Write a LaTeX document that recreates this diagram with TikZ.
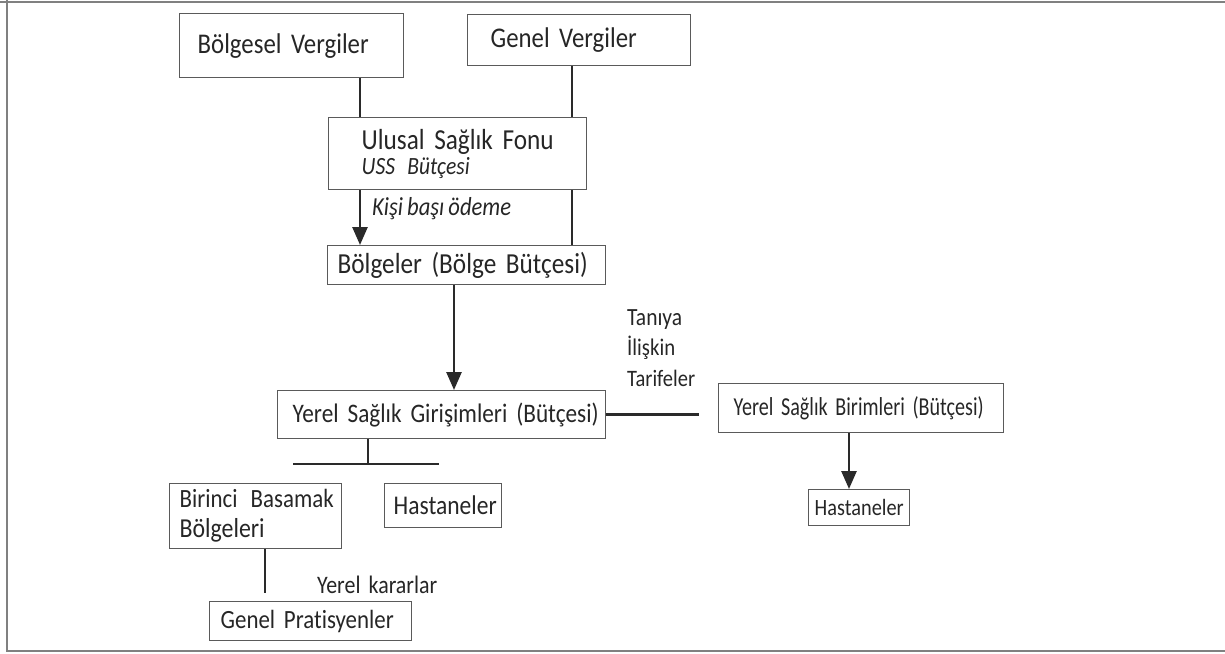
\documentclass[tikz,border=0pt]{standalone}
\usepackage{fontspec}
\setmainfont{Carlito}[Ligatures=CommonOff, FakeStretch=0.87, WordSpace=0.8]
\usetikzlibrary{arrows.meta,calc}
\definecolor{boxc}{HTML}{5A5A5A}
\definecolor{linec}{HTML}{2A2A2A}
\definecolor{textc}{HTML}{262626}
\definecolor{framec}{HTML}{808080}
\newcommand{\fsz}[2]{\fontsize{#1}{#2}\selectfont}
\newcommand{\fitw}[2]{\resizebox{#1pt}{!}{#2}}
\tikzset{
  box/.style={draw=boxc, line width=1.4pt, anchor=north west, align=left,
    text=textc, inner ysep=0pt, font=\fsz{24}{30}},
  conn/.style={draw=linec, line width=2.6pt},
  arr/.style={conn, -{Triangle[length=18pt,width=15pt]}},
  lbl/.style={text=textc, inner sep=0pt, align=left, font=\fsz{22}{28.5}},
  frame/.style={draw=framec, line width=2pt}
}
\begin{document}
\begin{tikzpicture}[x=1pt,y=-1pt]
\useasboundingbox (0,0) rectangle (1225,653);
\draw[frame] (0,1.5) -- (1225,1.5);
\draw[frame] (7,0) -- (7,651) -- (1225,651);

\node[box, minimum height=64pt, text width=188pt, inner xsep=18pt] (bv) at (179,13) {\fitw{171}{Bölgesel Vergiler}};
\node[box, minimum height=51pt, text width=177pt, inner xsep=23pt] (gv) at (467,14) {\fitw{146}{Genel Vergiler}};
\node[box, font=\fsz{24}{25}, minimum height=72pt, text width=192pt, inner xsep=33pt] (usf) at (328,117)
  {\fitw{192}{Ulusal Sağlık Fonu}\\\fitw{108}{\itshape USS\, Bütçesi}};
\node[box, minimum height=39pt, text width=258pt, inner xsep=10pt] (bol) at (327,245) {\fitw{250}{Bölgeler (Bölge Bütçesi)}};
\node[box, minimum height=48pt, text width=298pt, inner xsep=15pt] (ysg) at (277,390) {\fitw{306}{Yerel Sağlık Girişimleri (Bütçesi)}};
\node[box, minimum height=49pt, text width=255pt, inner xsep=15pt] (ysb) at (718,383) {\scalebox{1}[1.12]{\fitw{250}{Yerel Sağlık Birimleri (Bütçesi)}}};
\node[box, minimum height=36pt, text width=89pt, inner xsep=6pt] (h2) at (808,489) {\fitw{89}{Hastaneler}};
\node[box, minimum height=65pt, text width=152pt, inner xsep=10pt] (bbb) at (169,483) {\fitw{154}{Birinci\, Basamak}\\\fitw{85}{Bölgeleri}};
\node[box, minimum height=44pt, text width=99pt, inner xsep=9pt] (h1) at (384,483) {\fitw{103}{Hastaneler}};
\node[box, minimum height=39pt, text width=180pt, inner xsep=11pt] (gp) at (209,601) {\fitw{173}{Genel Pratisyenler}};

\coordinate (xa) at (360,0);
\coordinate (xb) at (572,0);
\coordinate (xc) at (454,0);
\coordinate (xd) at (699,0);
\coordinate (xe) at (849,0);
\coordinate (xf) at (368,0);
\coordinate (t1) at (293,464);
\coordinate (t2) at (439,464);
\coordinate (xg) at (265,0);
\coordinate (gpend) at (265,593);

\draw[conn] (xa |- bv.south) -- (xa |- usf.north);
\draw[conn] (xb |- gv.south) -- (xb |- usf.north);
\draw[arr] (xa |- usf.south) -- (xa |- bol.north);
\draw[conn] (xb |- usf.south) -- (xb |- bol.north);
\draw[arr] (xc |- bol.south) -- (xc |- ysg.north);
\draw[conn] (ysg.east) -- (ysg.east -| xd);
\draw[arr] (xe |- ysb.south) -- (xe |- h2.north);
\draw[conn] (xf |- ysg.south) -- (xf |- t1);
\draw[conn] (t1) -- (t2);
\draw[conn] (xg |- bbb.south) -- (gpend);

\node[lbl, anchor=west] (kbo) at (372,209) {\fitw{139}{\itshape Kişi başı ödeme}};
\node[lbl, anchor=north west] (tit) at (627,309) {\fitw{55}{Tanıya}\\[2pt]\fitw{48}{İlişkin}\\[2pt]\fitw{68}{Tarifeler}};
\node[lbl, anchor=west] (yk) at (317,585) {\fitw{120}{Yerel\, kararlar}};
\end{tikzpicture}
\end{document}
